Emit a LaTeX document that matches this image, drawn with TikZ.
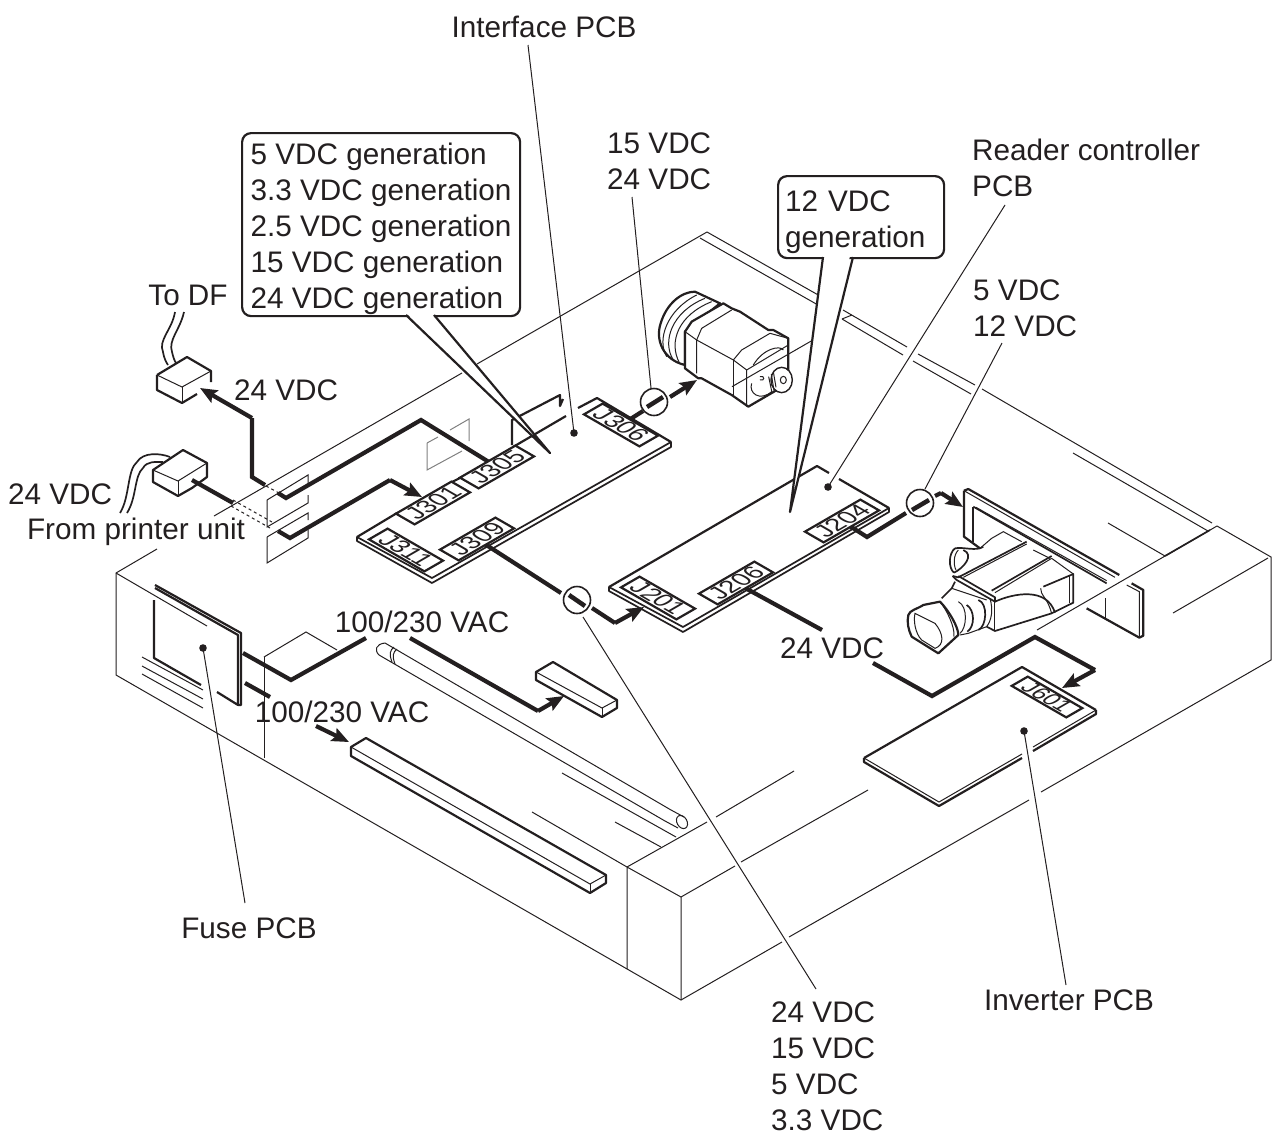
\documentclass[tikz,border=0pt]{standalone}
\usepackage{fontspec}
\setmainfont{Liberation Sans}
\usetikzlibrary{arrows.meta}
\definecolor{inkc}{HTML}{231F20}
\tikzset{
  hair/.style={line width=1pt},
  edge/.style={line width=2.2pt,line join=round},
  slim/.style={line width=1.7pt,line join=round},
  feed/.style={line width=4.2pt,line join=miter},
  feedto/.style={feed,-{Stealth[length=17pt,width=14pt,inset=3pt]}},
  leader/.style={line width=1pt},
  lbl/.style={font=\fontsize{29.7}{36}\selectfont,align=left,inner sep=0pt},
  callout/.style={lbl,draw,line width=2.2pt,rounded corners=9pt,fill=white,anchor=north west,inner sep=0pt},
  tagup/.style={draw,fill=white,line width=2.2pt,font=\fontsize{24.5}{24.5}\selectfont,inner sep=0pt,minimum width=64pt,minimum height=21.5pt,cm={.866,.5,-.866,.5,(0,0)}},
  tagdn/.style={draw,fill=white,line width=2.2pt,font=\fontsize{24.5}{24.5}\selectfont,inner sep=0pt,minimum width=64pt,minimum height=21.5pt,cm={.866,-.5,.866,.5,(0,0)}},
  brkmark/.style={circle,draw,fill=white,line width=1.6pt,inner sep=0pt,minimum size=27pt},
}
\begin{document}
\begin{tikzpicture}[x=1pt,y=-1pt,color=inkc]
\useasboundingbox (0,0) rectangle (1272,1133);

\draw[hair] (707,232) -- (700,236);
\draw[hair] (707,232) -- (820,296);
\draw[hair] (843,310) -- (907,347);
\draw[hair] (918,354) -- (975,385);
\draw[hair] (982,389) -- (1212,523);
\draw[hair] (700,238) -- (818,305);
\draw[hair] (842,319) -- (903,355);
\draw[hair] (913,361) -- (971,394);
\draw[hair] (1073,453) -- (1208,531);
\draw[hair] (1108,523) -- (1165,556);
\draw[hair] (1217,526) -- (1271,557) -- (1271,660) -- (1041,792);
\draw[hair] (1029,800) -- (789,937);
\draw[hair] (782,942) -- (681,1000) -- (116,675) -- (116,573) -- (157,549);
\draw[hair] (214,516) -- (462,373);
\draw[hair] (477,364) -- (700,236);
\draw[hair] (116,573) -- (207,626);
\draw[hair] (681,1000) -- (681,897) -- (627,867) -- (627,969);
\draw[hair] (681,897) -- (735,866);
\draw[hair] (741,862) -- (868,790);
\draw[hair] (627,867) -- (707,822);
\draw[hair] (716,817) -- (794,771);
\draw[hair] (1037,630) -- (1217,526);
\draw[slim] (1165,556) -- (1210,530);
\draw[hair] (1173,613) -- (1268,558);
\draw[hair] (532,812) -- (627,867);
\draw[hair] (562,773) -- (676,837);
\draw[hair] (615,822) -- (661,847);
\draw[hair] (842,319) -- (852,315);

\draw[hair,color=gray] (427,443) -- (438,437);
\draw[hair,color=gray] (450,430) -- (469,419) -- (469,441);
\draw[hair,color=gray] (427,443) -- (427,470) -- (462,451);
\draw[hair] (267,500) -- (308,475) -- (308,485);
\draw[hair] (267,500) -- (267,527) -- (308,503) -- (308,495);
\draw[hair] (267,537) -- (308,513) -- (308,520);
\draw[hair] (267,537) -- (267,563) -- (308,538) -- (308,530);

\draw[edge] (357,537) -- (397,513);
\draw[edge] (452,482) -- (462,477);
\draw[edge] (513,447) -- (566,416);
\draw[edge] (578,408) -- (597,398) -- (671,442);
\draw[edge] (512,445) -- (512,420) -- (560,395) -- (560,406) -- (563,399);
\draw[slim,fill=white] (357,537) -- (432,578) -- (671,442) -- (671,447) -- (432,583) -- (357,541) -- cycle;

\draw[edge] (609,587) -- (817,466) -- (829,473);
\draw[edge] (839,479) -- (889,508);
\draw[slim,fill=white] (609,587) -- (683,627) -- (889,508) -- (889,512) -- (683,632) -- (609,591) -- cycle;

\draw[edge] (864,758) -- (1022,667) -- (1096,710);
\draw[edge] (864,758) -- (864,762) -- (939,806) -- (1022,758);
\draw[hair] (864,758) -- (939,802) -- (1022,754);
\draw[edge] (1033,751) -- (1096,714) -- (1096,710);
\draw[hair] (1033,747) -- (1096,710);

\draw[edge] (155,585) -- (241,633) -- (241,705) -- (238,705);
\draw[edge] (155,588) -- (238,635) -- (238,705) -- (217,692);
\draw[edge] (154,600) -- (154,658) -- (201,685);
\draw[hair] (142,657) -- (203,690);
\draw[hair] (142,666) -- (203,699);
\draw[hair] (142,674) -- (203,708);
\draw[hair] (264,657) -- (264,758);
\draw[hair] (264,657) -- (306,632) -- (337,650);

\draw[edge] (536,672) -- (553,662) -- (617,700) -- (617,708) -- (602,717) -- (536,680) -- cycle;
\draw[hair] (536,672) -- (602,708) -- (617,700);
\draw[hair] (602,708) -- (602,717);
\draw[edge] (351,747) -- (366,738) -- (606,875) -- (606,883) -- (590,893) -- (351,756) -- cycle;
\draw[hair] (351,747) -- (590,884) -- (606,875);
\draw[hair] (590,884) -- (590,893);

\draw[hair] (385,643) -- (671,810);
\draw[hair] (379,655) -- (665,821);
\draw[hair] (379,655) .. controls (374,650) and (376,644) .. (385,643);
\draw[hair] (394,647) .. controls (390,650) and (389,654) .. (392,662);
\draw[hair] (397,649) .. controls (393,652) and (392,656) .. (395,664);
\draw[hair] (671,810) -- (684,817);
\draw[hair] (665,821) -- (678,828);
\draw[hair,rotate around={30:(682,822)}] (682,822) ellipse (5 and 7);

\draw[slim] (175,312) .. controls (172,330) and (158,340) .. (163,352) .. controls (164,358) and (166,362) .. (168,365);
\draw[slim] (184,312) .. controls (180,330) and (168,340) .. (172,352) .. controls (173,356) and (174,360) .. (176,363);
\draw[edge] (157,375) -- (187,357) -- (211,371) -- (211,382);
\draw[hair] (157,375) -- (182,387) -- (211,371);
\draw[edge] (157,375) -- (157,390) -- (182,403) -- (197,394);
\draw[hair] (182,387) -- (182,403);

\draw[slim] (120,513) .. controls (130,497) and (127,470) .. (137,462) .. controls (143,452) and (160,453) .. (170,457);
\draw[slim] (127,513) .. controls (137,497) and (134,476) .. (143,468) .. controls (147,461) and (155,462) .. (163,462);
\draw[edge,fill=white] (153,470) -- (183,450) -- (207,463) -- (207,477) -- (192,488) -- (178,496) -- (153,482) -- cycle;
\draw[hair] (153,470) -- (178,481) -- (207,463);
\draw[hair] (178,481) -- (178,496);

\coordinate (j305) at (497,467);
\coordinate (j301) at (433,503);
\coordinate (j311) at (406,550);
\coordinate (j309) at (477,539);
\coordinate (j306) at (621,425);
\coordinate (j201) at (658,598);
\coordinate (j206) at (736,583);
\coordinate (j204) at (842,521);
\coordinate (j601) at (1047,697);
\coordinate (brkA) at (654,402);
\coordinate (brkB) at (577,600);
\coordinate (brkC) at (920,503);

\draw[feed] (j305) -- (421,420) -- (286,498) -- (278,493);
\draw[feed] (265,485) -- (252,477) -- (252,418);
\draw[feedto] (252,418) -- (200,388);
\draw[hair,dashed] (266,486) -- (279,493);
\draw[feed] (192,480) -- (233,503);
\draw[hair,dashed] (233,500) -- (272,522);
\draw[hair,dashed] (231,506) -- (270,528);
\draw[feed] (278,531) -- (290,538) -- (390,480);
\draw[feedto] (390,480) -- (422,497);
\draw[feed] (j309) -- (561,593);
\draw[feed] (592,608) -- (615,623);
\draw[feedto] (615,623) -- (644,607);
\draw[feed] (j306) -- (643,411);
\draw[feedto] (670,397) -- (697,380);
\draw[feed] (j204) -- (867,537) -- (906,513);
\draw[feed] (935,496) -- (941,493);
\draw[feedto] (941,493) -- (963,507);
\draw[feed] (j206) -- (822,630);
\draw[feed] (873,663) -- (932,696) -- (1035,637) -- (1095,670);
\draw[feedto] (1095,670) -- (1062,688);
\draw[feed] (243,653) -- (291,680) -- (366,638);
\draw[feed] (410,638) -- (538,711);
\draw[feedto] (538,711) -- (564,696);
\draw[feed] (245,683) -- (270,697);
\draw[feedto] (316,726) -- (349,742);

\node[brkmark] (brk1) at (brkA) {};
\node[brkmark] (brk2) at (brkB) {};
\node[brkmark] (brk3) at (brkC) {};
\draw[feed,line width=4.5pt] (647,407) -- (663,397);
\draw[feed,line width=4.5pt] (569,595) -- (585,606);
\draw[feed,line width=4.5pt] (912,510) -- (929,500);

\node[tagup] (J305) at (j305) {J305};
\node[tagup] (J301) at (j301) {J301};
\node[tagdn] (J311) at (j311) {J311};
\node[tagup] (J309) at (j309) {J309};
\node[tagdn] (J306) at (j306) {J306};
\node[tagdn] (J201) at (j201) {J201};
\node[tagup] (J206) at (j206) {J206};
\node[tagup] (J204) at (j204) {J204};
\node[tagdn,minimum width=63pt,minimum height=18.5pt,font=\fontsize{22.5}{22.5}\selectfont] (J601) at (j601) {J601};

\begin{scope}[shift={(640,270)},x=0.3333pt,y=-0.3333pt]
\draw[edge,fill=white] (135,285) .. controls (70,270) and (45,210) .. (62,160) .. controls (80,100) and (125,65) .. (165,65) -- (240,100) -- (135,185) -- cycle;
\draw[hair] (80,260) .. controls (50,210) and (80,120) .. (170,75);
\draw[hair] (100,270) .. controls (65,215) and (95,125) .. (195,85);
\draw[hair] (118,278) .. controls (85,215) and (115,135) .. (215,95);
\draw[edge,fill=white] (135,185) -- (155,155) -- (250,100) -- (275,115) -- (300,125) -- (385,180) -- (400,180) -- (445,205) -- (445,340) -- (325,410) -- (275,375) -- (185,325) -- (175,325) -- (135,295) -- cycle;
\draw[hair] (170,210) -- (185,175) -- (275,120);
\draw[hair] (135,185) -- (170,210) -- (170,310);
\draw[hair] (170,210) -- (280,270);
\draw[hair] (280,270) -- (305,240) -- (390,190) -- (445,205);
\draw[hair] (280,270) -- (280,378);
\draw[hair] (280,270) -- (320,300) -- (320,410);
\draw[hair] (320,300) -- (445,225);
\draw[hair] (340,285) .. controls (370,235) and (420,225) .. (430,240);
\draw[hair] (335,340) .. controls (325,370) and (360,395) .. (395,365);
\draw[hair] (360,320) .. controls (375,315) and (375,335) .. (360,330);
\draw[hair] (276,350) -- (519,210);
\draw[hair,fill=white,line width=1.4pt] (425,330) ellipse (32 and 38);
\draw[hair] (430,330) ellipse (9 and 11);
\draw[hair] (400,305) -- (408,352);
\draw[hair] (394,312) -- (402,362);
\draw[hair] (386,320) -- (396,368);
\end{scope}

\begin{scope}[shift={(880,470)},x=0.3333pt,y=-0.3333pt]
\draw[edge] (252,62) -- (265,57) -- (718,315);
\draw[edge] (755,340) -- (790,360) -- (790,497) -- (778,503) -- (620,415);
\draw[hair] (740,345) -- (778,365) -- (778,500);
\draw[edge] (252,62) -- (252,200) -- (300,235);
\draw[hair] (252,62) -- (705,322);
\draw[hair] (678,385) -- (678,445);
\draw[slim] (280,110) -- (280,215);
\draw[slim] (280,110) -- (680,340);
\draw[hair] (288,112) -- (680,332);
\draw[hair] (300,235) -- (335,205) -- (370,185) -- (425,215);
\draw[hair] (460,240) -- (510,265);
\draw[slim] (225,235) .. controls (250,230) and (290,245) .. (310,230);
\draw[slim] (225,235) .. controls (205,250) and (205,295) .. (222,308);
\draw[hair] (235,240) .. controls (220,255) and (220,285) .. (228,300);
\draw[slim] (222,308) .. controls (250,295) and (285,255) .. (250,240);
\draw[slim] (218,318) -- (235,322) -- (440,215);
\draw[hair] (250,322) -- (440,222);
\draw[slim] (335,362) -- (515,258);
\draw[hair] (345,368) -- (515,265);
\draw[slim] (218,318) -- (230,330) -- (345,395) -- (345,382) -- (235,318);
\draw[hair] (515,265) -- (580,312);
\draw[slim] (490,350) -- (580,312) -- (580,398) -- (515,430) -- (345,483) -- (320,470);
\draw[hair] (345,395) -- (345,483);
\draw[hair] (570,318) -- (570,398);
\draw[slim] (345,395) .. controls (400,370) and (500,350) .. (525,428);
\draw[hair] (482,355) .. controls (480,375) and (505,385) .. (515,432);
\draw[slim] (225,335) -- (215,355) -- (185,385);
\draw[hair] (215,355) -- (320,390);
\draw[hair] (330,385) .. controls (340,420) and (335,450) .. (320,470) -- (265,490) -- (240,495);
\draw[slim] (295,390) .. controls (325,400) and (320,470) .. (295,480);
\draw[slim] (260,405) .. controls (285,420) and (285,470) .. (262,485);
\draw[hair] (235,395) .. controls (265,410) and (260,475) .. (240,490);
\draw[edge,fill=white] (85,435) .. controls (90,420) and (110,418) .. (130,405) -- (180,395) .. controls (205,420) and (235,470) .. (235,495) -- (175,550) -- (95,500) .. controls (85,480) and (80,455) .. (85,435) -- cycle;
\draw[hair] (180,395) .. controls (200,420) and (225,470) .. (222,500);
\draw[hair] (105,430) -- (165,460) .. controls (190,490) and (195,525) .. (165,535) -- (125,510) .. controls (105,490) and (100,450) .. (105,430) -- cycle;
\end{scope}

\foreach \px/\py in {203/648,574/433,828/487,1024/731}
  \fill (\px,\py) circle (3.8);

\coordinate (ifdot) at (574,433);
\coordinate (rcdot) at (828,487);
\coordinate (fusedot) at (203,648);
\coordinate (invdot) at (1024,731);

\node[lbl] (ifpcb) at (544,27) {Interface PCB};
\node[lbl,anchor=west] (rcpcb) at (972,168) {Reader controller\\PCB};
\node[lbl,anchor=west] (v1524) at (607,161) {15 VDC\\24 VDC};
\node[lbl,anchor=west] (v0512) at (973,308) {5 VDC\\12 VDC};
\node[lbl] (todf) at (188,295) {To DF};
\node[lbl] (v24a) at (286,390) {24 VDC};
\node[lbl] (v24b) at (60,494) {24 VDC};
\node[lbl] (fromprn) at (136,532) {From printer unit};
\node[lbl] (ac1) at (422,622) {100/230 VAC};
\node[lbl] (ac2) at (342,712) {100/230 VAC};
\node[lbl] (v24c) at (832,648) {24 VDC};
\node[lbl] (fusepcb) at (249,928) {Fuse PCB};
\node[lbl] (invpcb) at (1069,1000) {Inverter PCB};
\node[lbl,anchor=north west] (vlist) at (771,1002) {24 VDC\\15 VDC\\5 VDC\\3.3 VDC};

\draw[leader] (528,45) -- (ifdot);
\draw[leader] (1005,205) -- (rcdot);
\draw[leader] (632,197) -- (651,388);
\draw[leader] (1002,343) -- (925,489);
\draw[leader] (583,617) -- (816,989);
\draw[leader] (fusedot) -- (245,903);
\draw[leader] (invdot) -- (1066,985);

\node[callout,minimum width=278pt,minimum height=183pt] (gen5) at (241,132) {\rule{0pt}{30pt}5 VDC generation\\3.3 VDC generation\\2.5 VDC generation\\15 VDC generation\\24 VDC generation};
\node[callout,minimum width=166pt,minimum height=82pt,text width=152pt] (gen12) at (777,175) {\rule{0pt}{30pt}12 VDC\\generation};

\coordinate (tipA) at (550,453);
\coordinate (tipB) at (790,512);
\fill[white] (407,314) -- (tipA) -- (433,314) -- cycle;
\draw[edge] (406,315) -- (tipA) -- (434,315);
\fill[white] (824,256) -- (tipB) -- (850,256) -- cycle;
\draw[edge] (823,257) -- (tipB) -- (853,257);
\end{tikzpicture}
\end{document}
